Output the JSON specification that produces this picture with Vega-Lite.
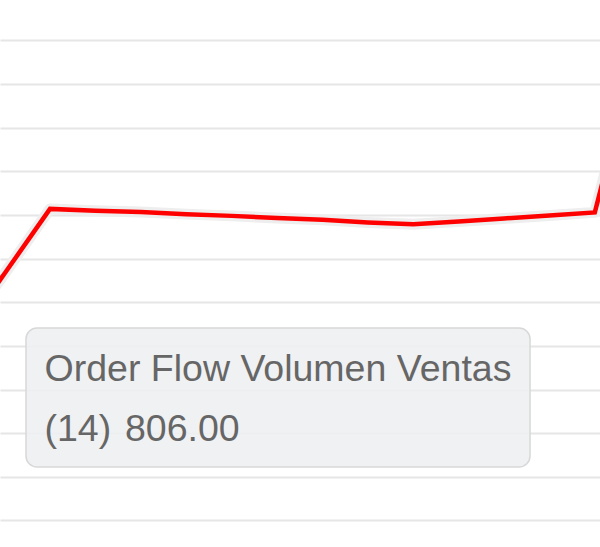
{
  "$schema": "https://vega.github.io/schema/vega-lite/v6.json",
  "width": 600,
  "height": 547,
  "padding": 0,
  "autosize": {"type": "fit", "contains": "padding"},
  "background": "#ffffff",
  "config": {"view": {"stroke": null}},
  "datasets": {
    "series": [
      {"n": 0, "v": 518},
      {"n": 1, "v": 666},
      {"n": 2, "v": 814},
      {"n": 3, "v": 810},
      {"n": 4, "v": 807},
      {"n": 5, "v": 802},
      {"n": 6, "v": 798},
      {"n": 7, "v": 793},
      {"n": 8, "v": 789},
      {"n": 9, "v": 783},
      {"n": 10, "v": 779},
      {"n": 11, "v": 785},
      {"n": 12, "v": 792},
      {"n": 13, "v": 799},
      {"n": 14, "v": 806},
      {"n": 15, "v": 1212}
    ],
    "box": [{"n": 1.4714, "n2": 12.573, "v": 541.1, "v2": 222.5}],
    "labels": [
      {"n": 1.879, "v": 419.6, "label": "Order Flow Volumen Ventas"},
      {"n": 1.879, "v": 282.8, "label": "(14)"},
      {"n": 3.652, "v": 282.8, "label": "806.00"}
    ]
  },
  "layer": [
    {
      "data": {"name": "series"},
      "mark": {"type": "line", "stroke": "#eeeeee", "strokeWidth": 11, "clip": true, "strokeJoin": "round"},
      "encoding": {
        "x": {"field": "n", "type": "quantitative", "scale": {"domain": [0.8987, 14.114], "nice": false, "zero": false}, "axis": null},
        "y": {"field": "v", "type": "quantitative", "scale": {"domain": [39.2, 1292.7], "nice": false, "zero": false},
          "axis": {"values": [100, 200, 300, 400, 500, 600, 700, 800, 900, 1000, 1100, 1200], "labels": false, "ticks": false, "domain": false, "title": null, "grid": true, "gridColor": "#e6e6e6", "gridWidth": 2}}
      }
    },
    {
      "data": {"name": "series"},
      "mark": {"type": "line", "stroke": "#ff0000", "strokeWidth": 4.5, "clip": true, "strokeJoin": "miter"},
      "encoding": {
        "x": {"field": "n", "type": "quantitative"},
        "y": {"field": "v", "type": "quantitative"}
      }
    },
    {
      "data": {"name": "box"},
      "mark": {"type": "rect", "fill": "#eeeff1", "fillOpacity": 0.88, "stroke": "#d8d8d8", "strokeWidth": 1.5, "cornerRadius": 11},
      "encoding": {
        "x": {"field": "n", "type": "quantitative"},
        "x2": {"field": "n2"},
        "y": {"field": "v", "type": "quantitative"},
        "y2": {"field": "v2"}
      }
    },
    {
      "data": {"name": "labels"},
      "mark": {"type": "text", "align": "left", "baseline": "alphabetic", "font": "Liberation Sans", "fontSize": 37.5, "color": "#666666"},
      "encoding": {
        "x": {"field": "n", "type": "quantitative"},
        "y": {"field": "v", "type": "quantitative"},
        "text": {"field": "label"}
      }
    }
  ]
}
